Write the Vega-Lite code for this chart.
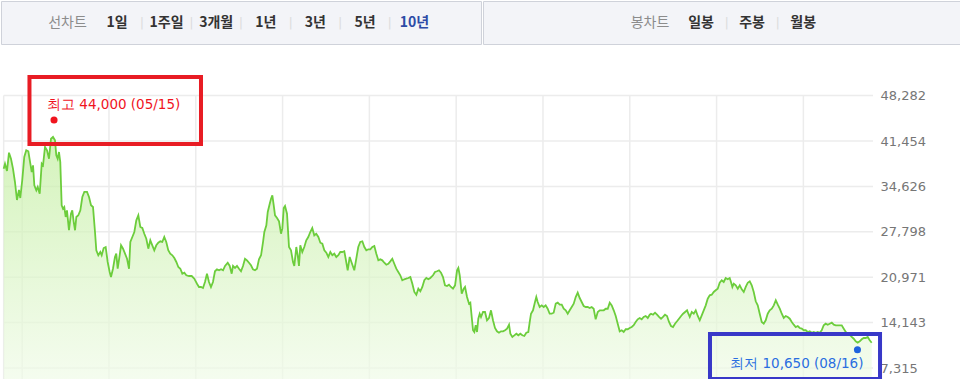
{
  "$schema": "https://vega.github.io/schema/vega-lite/v6.json",
  "padding": 0,
  "background": "#ffffff",
  "spacing": 0,
  "config": {"view": {"stroke": null}, "concat": {"spacing": 0}},
  "vconcat": [
    {
      "spacing": 0,
      "hconcat": [
        {
          "width": 480, "height": 43,
          "view": {"fill": "#f3f4f8", "stroke": "#cfd2da"},
          "data": {"values": [
            {"tab": "선차트", "kind": "title", "sep": false},
            {"tab": "1일", "kind": "tab", "sep": false},
            {"tab": "1주일", "kind": "tab", "sep": true},
            {"tab": "3개월", "kind": "tab", "sep": true},
            {"tab": "1년", "kind": "tab", "sep": true},
            {"tab": "3년", "kind": "tab", "sep": true},
            {"tab": "5년", "kind": "tab", "sep": true},
            {"tab": "10년", "kind": "tab", "sep": true, "selected": true}
          ]},
          "layer": [
            {
              "transform": [{"filter": "datum.kind === 'title'"}],
              "mark": {"type": "text", "font": "Noto Sans CJK KR", "fontSize": 14, "color": "#8c8c8c"},
              "encoding": {
                "x": {"field": "tab", "type": "nominal", "axis": null,
                      "scale": {"type": "band", "domain": ["선차트", "1일", "1주일", "3개월", "1년", "3년", "5년", "10년"], "paddingInner": 0, "paddingOuter": 0.84, "align": 0.5}},
                "text": {"field": "tab"}
              }
            },
            {
              "transform": [{"filter": "datum.kind === 'tab'"}],
              "mark": {"type": "text", "font": "Noto Sans CJK KR", "fontSize": 14, "fontWeight": "bold"},
              "encoding": {
                "x": {"field": "tab", "type": "nominal", "axis": null,
                      "scale": {"type": "band", "domain": ["선차트", "1일", "1주일", "3개월", "1년", "3년", "5년", "10년"], "paddingInner": 0, "paddingOuter": 0.84, "align": 0.5}},
                "text": {"field": "tab"},
                "color": {"condition": {"test": "datum.selected === true", "value": "#2d4ba6"}, "value": "#333333"}
              }
            },
            {
              "transform": [{"filter": "datum.sep"}],
              "mark": {"type": "text", "text": "|", "font": "DejaVu Sans", "fontSize": 13, "color": "#dddddd"},
              "encoding": {
                "x": {"field": "tab", "type": "nominal", "axis": null, "bandPosition": 0,
                      "scale": {"type": "band", "domain": ["선차트", "1일", "1주일", "3개월", "1년", "3년", "5년", "10년"], "paddingInner": 0, "paddingOuter": 0.84, "align": 0.5}}
              }
            }
          ]
        },
        {
          "width": 480, "height": 43,
          "view": {"fill": "#f3f4f8", "stroke": "#cfd2da"},
          "data": {"values": [
            {"tab": "봉차트", "kind": "title", "sep": false},
            {"tab": "일봉", "kind": "tab", "sep": false},
            {"tab": "주봉", "kind": "tab", "sep": true},
            {"tab": "월봉", "kind": "tab", "sep": true}
          ]},
          "layer": [
            {
              "transform": [{"filter": "datum.kind === 'title'"}],
              "mark": {"type": "text", "font": "Noto Sans CJK KR", "fontSize": 14, "color": "#8c8c8c"},
              "encoding": {
                "x": {"field": "tab", "type": "nominal", "axis": null,
                      "scale": {"type": "band", "domain": ["pad1", "pad2", "봉차트", "일봉", "주봉", "월봉", "pad3", "pad4"], "paddingInner": 0, "paddingOuter": 0.7, "align": 0.55}},
                "text": {"field": "tab"}
              }
            },
            {
              "transform": [{"filter": "datum.kind === 'tab'"}],
              "mark": {"type": "text", "font": "Noto Sans CJK KR", "fontSize": 14, "fontWeight": "bold", "color": "#333333"},
              "encoding": {
                "x": {"field": "tab", "type": "nominal", "axis": null,
                      "scale": {"type": "band", "domain": ["pad1", "pad2", "봉차트", "일봉", "주봉", "월봉", "pad3", "pad4"], "paddingInner": 0, "paddingOuter": 0.7, "align": 0.55}},
                "text": {"field": "tab"}
              }
            },
            {
              "transform": [{"filter": "datum.sep"}],
              "mark": {"type": "text", "text": "|", "font": "DejaVu Sans", "fontSize": 13, "color": "#dddddd"},
              "encoding": {
                "x": {"field": "tab", "type": "nominal", "axis": null, "bandPosition": 0,
                      "scale": {"type": "band", "domain": ["pad1", "pad2", "봉차트", "일봉", "주봉", "월봉", "pad3", "pad4"], "paddingInner": 0, "paddingOuter": 0.7, "align": 0.55}}
              }
            }
          ]
        }
      ]
    },
    {
      "width": 872, "height": 336,
      "view": {"stroke": null},
      "layer": [
        {
          "data": {"values": [{"t": 2006.787}, {"t": 2007}, {"t": 2008}, {"t": 2009}, {"t": 2010}, {"t": 2011}, {"t": 2012}, {"t": 2013}, {"t": 2014}, {"t": 2015}, {"t": 2016}]},
          "mark": {"type": "rule", "color": "#ececec", "strokeWidth": 1.5},
          "encoding": {
            "x": {"field": "t", "type": "quantitative", "axis": null, "scale": {"domain": [2006.756, 2016.802], "nice": false, "zero": false}},
            "y": {"datum": 48282, "type": "quantitative", "scale": {"domain": [5360, 55894], "nice": false, "zero": false},
                  "axis": {"orient": "right", "values": [7315, 14143, 20971, 27798, 34626, 41454, 48282], "format": ",.0f", "domain": false, "ticks": false, "grid": false, "labelPadding": 7, "labelFont": "DejaVu Sans", "labelFontSize": 13, "labelColor": "#767676", "labelOverlap": false, "title": null}},
            "y2": {"datum": 5360}
          }
        },
        {
          "data": {"values": [{"v": 7315}, {"v": 14143}, {"v": 20971}, {"v": 27798}, {"v": 34626}, {"v": 41454}, {"v": 48282}]},
          "mark": {"type": "rule", "color": "#ececec", "strokeWidth": 1.5},
          "encoding": {
            "y": {"field": "v", "type": "quantitative", "scale": {"domain": [5360, 55894], "nice": false, "zero": false},
                  "axis": {"orient": "right", "values": [7315, 14143, 20971, 27798, 34626, 41454, 48282], "format": ",.0f", "domain": false, "ticks": false, "grid": false, "labelPadding": 7, "labelFont": "DejaVu Sans", "labelFontSize": 13, "labelColor": "#767676", "labelOverlap": false, "title": null}},
            "x": {"datum": 2006.787, "type": "quantitative", "axis": null, "scale": {"domain": [2006.756, 2016.802], "nice": false, "zero": false}},
            "x2": {"datum": 2016.802}
          }
        },
        {
          "data": {"values": [
{"t":2006.787,"v":37290},{"t":2006.802,"v":38040},{"t":2006.825,"v":36940},{"t":2006.848,"v":39700},{"t":2006.871,"v":38790},{"t":2006.894,"v":37290},{"t":2006.917,"v":35290},{"t":2006.940,"v":32580},{"t":2006.963,"v":34090},{"t":2006.978,"v":32880},
{"t":2007.001,"v":35590},{"t":2007.024,"v":39050},{"t":2007.047,"v":40060},{"t":2007.071,"v":39910},{"t":2007.094,"v":38040},{"t":2007.110,"v":36790},{"t":2007.125,"v":37800},{"t":2007.140,"v":34790},{"t":2007.163,"v":34040},{"t":2007.179,"v":34540},
{"t":2007.202,"v":33530},{"t":2007.225,"v":38040},{"t":2007.240,"v":37800},{"t":2007.263,"v":40550},{"t":2007.286,"v":40060},{"t":2007.309,"v":38790},{"t":2007.332,"v":41800},{"t":2007.355,"v":42060},{"t":2007.378,"v":41560},{"t":2007.393,"v":39310},
{"t":2007.409,"v":38790},{"t":2007.424,"v":39800},{"t":2007.439,"v":38300},{"t":2007.455,"v":31790},{"t":2007.470,"v":31270},{"t":2007.485,"v":31530},{"t":2007.501,"v":30030},{"t":2007.516,"v":31030},{"t":2007.539,"v":28030},{"t":2007.562,"v":30520},
{"t":2007.577,"v":31030},{"t":2007.594,"v":29270},{"t":2007.609,"v":28030},{"t":2007.624,"v":30030},{"t":2007.647,"v":30280},{"t":2007.670,"v":31030},{"t":2007.693,"v":33030},{"t":2007.716,"v":33790},{"t":2007.747,"v":33790},{"t":2007.770,"v":33030},
{"t":2007.793,"v":31790},{"t":2007.816,"v":31530},{"t":2007.839,"v":27770},{"t":2007.854,"v":25020},{"t":2007.877,"v":24270},{"t":2007.900,"v":24760},{"t":2007.916,"v":24270},{"t":2007.939,"v":25360},{"t":2007.962,"v":25510},{"t":2007.985,"v":23260},
{"t":2008.008,"v":21750},{"t":2008.023,"v":21000},{"t":2008.046,"v":22250},{"t":2008.069,"v":24010},{"t":2008.084,"v":24510},{"t":2008.100,"v":22250},{"t":2008.123,"v":24270},{"t":2008.139,"v":25770},{"t":2008.162,"v":25260},{"t":2008.185,"v":24510},
{"t":2008.208,"v":23750},{"t":2008.231,"v":22250},{"t":2008.246,"v":26270},{"t":2008.269,"v":27020},{"t":2008.292,"v":27770},{"t":2008.315,"v":29530},{"t":2008.338,"v":30280},{"t":2008.361,"v":28520},{"t":2008.384,"v":28370},{"t":2008.407,"v":27510},
{"t":2008.430,"v":26760},{"t":2008.453,"v":25260},{"t":2008.476,"v":26520},{"t":2008.499,"v":25770},{"t":2008.522,"v":25020},{"t":2008.545,"v":25770},{"t":2008.568,"v":26160},{"t":2008.591,"v":26370},{"t":2008.614,"v":26270},{"t":2008.637,"v":27020},
{"t":2008.660,"v":26270},{"t":2008.683,"v":25020},{"t":2008.706,"v":24510},{"t":2008.730,"v":24270},{"t":2008.753,"v":23860},{"t":2008.776,"v":23260},{"t":2008.799,"v":22510},{"t":2008.822,"v":22250},{"t":2008.845,"v":21500},{"t":2008.868,"v":21650},
{"t":2008.891,"v":21260},{"t":2008.922,"v":21150},{"t":2008.953,"v":21150},{"t":2008.983,"v":20750},{"t":2009.014,"v":19990},{"t":2009.037,"v":19500},{"t":2009.060,"v":19500},{"t":2009.083,"v":19350},{"t":2009.106,"v":20250},{"t":2009.129,"v":21500},
{"t":2009.152,"v":20250},{"t":2009.175,"v":19500},{"t":2009.198,"v":20250},{"t":2009.221,"v":21860},{"t":2009.244,"v":22160},{"t":2009.268,"v":22010},{"t":2009.291,"v":22160},{"t":2009.314,"v":22010},{"t":2009.337,"v":22660},{"t":2009.368,"v":23150},
{"t":2009.391,"v":22660},{"t":2009.414,"v":21500},{"t":2009.429,"v":22660},{"t":2009.452,"v":22360},{"t":2009.475,"v":22660},{"t":2009.498,"v":22250},{"t":2009.521,"v":21860},{"t":2009.544,"v":22660},{"t":2009.567,"v":23750},{"t":2009.590,"v":23510},
{"t":2009.613,"v":23150},{"t":2009.636,"v":22760},{"t":2009.659,"v":22160},{"t":2009.682,"v":22010},{"t":2009.705,"v":22250},{"t":2009.728,"v":23660},{"t":2009.752,"v":24270},{"t":2009.775,"v":26270},{"t":2009.790,"v":27770},{"t":2009.813,"v":28780},
{"t":2009.829,"v":30780},{"t":2009.852,"v":32030},{"t":2009.867,"v":32780},{"t":2009.882,"v":33290},{"t":2009.898,"v":31790},{"t":2009.913,"v":30280},{"t":2009.936,"v":29880},{"t":2009.959,"v":29380},{"t":2009.982,"v":27510},{"t":2009.997,"v":28270},
{"t":2010.013,"v":31380},{"t":2010.028,"v":31680},{"t":2010.051,"v":30520},{"t":2010.074,"v":25510},{"t":2010.097,"v":25020},{"t":2010.120,"v":23260},{"t":2010.135,"v":22660},{"t":2010.158,"v":25510},{"t":2010.174,"v":24270},{"t":2010.189,"v":22660},
{"t":2010.204,"v":25770},{"t":2010.227,"v":24760},{"t":2010.250,"v":25510},{"t":2010.273,"v":26520},{"t":2010.296,"v":27020},{"t":2010.319,"v":27770},{"t":2010.342,"v":28370},{"t":2010.365,"v":27270},{"t":2010.388,"v":27510},{"t":2010.412,"v":27020},
{"t":2010.435,"v":26160},{"t":2010.458,"v":26010},{"t":2010.481,"v":25020},{"t":2010.504,"v":24660},{"t":2010.527,"v":24010},{"t":2010.550,"v":24760},{"t":2010.573,"v":24270},{"t":2010.596,"v":24510},{"t":2010.619,"v":24010},{"t":2010.642,"v":24270},
{"t":2010.665,"v":24760},{"t":2010.688,"v":24760},{"t":2010.711,"v":24870},{"t":2010.727,"v":23750},{"t":2010.750,"v":22010},{"t":2010.773,"v":24010},{"t":2010.796,"v":23150},{"t":2010.826,"v":22010},{"t":2010.849,"v":23750},{"t":2010.872,"v":25510},
{"t":2010.895,"v":26270},{"t":2010.919,"v":26370},{"t":2010.942,"v":25510},{"t":2010.965,"v":25020},{"t":2010.988,"v":25170},{"t":2011.011,"v":25170},{"t":2011.034,"v":25510},{"t":2011.057,"v":25660},{"t":2011.080,"v":24510},{"t":2011.103,"v":23510},
{"t":2011.126,"v":23660},{"t":2011.149,"v":23510},{"t":2011.172,"v":23150},{"t":2011.195,"v":22850},{"t":2011.218,"v":23000},{"t":2011.241,"v":23360},{"t":2011.264,"v":23750},{"t":2011.287,"v":23000},{"t":2011.310,"v":22250},{"t":2011.333,"v":21750},
{"t":2011.356,"v":21260},{"t":2011.379,"v":20510},{"t":2011.402,"v":20660},{"t":2011.425,"v":20750},{"t":2011.448,"v":20850},{"t":2011.472,"v":21000},{"t":2011.495,"v":19990},{"t":2011.518,"v":18750},{"t":2011.541,"v":18340},{"t":2011.564,"v":19240},
{"t":2011.587,"v":18850},{"t":2011.610,"v":19500},{"t":2011.633,"v":20510},{"t":2011.656,"v":20850},{"t":2011.679,"v":20660},{"t":2011.702,"v":20850},{"t":2011.733,"v":21260},{"t":2011.756,"v":21750},{"t":2011.779,"v":21860},{"t":2011.802,"v":22010},
{"t":2011.825,"v":21650},{"t":2011.848,"v":21000},{"t":2011.871,"v":19750},{"t":2011.894,"v":19650},{"t":2011.917,"v":19840},{"t":2011.940,"v":19500},{"t":2011.963,"v":19240},{"t":2011.987,"v":19750},{"t":2012.010,"v":22010},{"t":2012.025,"v":22360},
{"t":2012.041,"v":21260},{"t":2012.064,"v":18490},{"t":2012.087,"v":19240},{"t":2012.102,"v":19500},{"t":2012.125,"v":17990},{"t":2012.148,"v":16990},{"t":2012.163,"v":17140},{"t":2012.179,"v":14990},{"t":2012.194,"v":12990},{"t":2012.209,"v":12730},
{"t":2012.225,"v":13740},{"t":2012.240,"v":12730},{"t":2012.255,"v":14730},{"t":2012.271,"v":15480},{"t":2012.286,"v":14990},{"t":2012.309,"v":15740},{"t":2012.332,"v":15740},{"t":2012.355,"v":14490},{"t":2012.378,"v":14840},{"t":2012.401,"v":15990},
{"t":2012.424,"v":14490},{"t":2012.447,"v":13330},{"t":2012.470,"v":12830},{"t":2012.493,"v":12620},{"t":2012.516,"v":12830},{"t":2012.540,"v":12830},{"t":2012.563,"v":12990},{"t":2012.586,"v":13230},{"t":2012.609,"v":13830},{"t":2012.624,"v":12470},
{"t":2012.647,"v":11980},{"t":2012.670,"v":12230},{"t":2012.693,"v":12470},{"t":2012.716,"v":12230},{"t":2012.739,"v":12470},{"t":2012.762,"v":12230},{"t":2012.785,"v":12130},{"t":2012.808,"v":12620},{"t":2012.831,"v":12730},{"t":2012.847,"v":14230},
{"t":2012.862,"v":15480},{"t":2012.885,"v":15990},{"t":2012.908,"v":17240},{"t":2012.923,"v":17990},{"t":2012.939,"v":17240},{"t":2012.962,"v":16490},{"t":2012.985,"v":16740},{"t":2013.008,"v":16490},{"t":2013.031,"v":16740},{"t":2013.054,"v":16230},
{"t":2013.077,"v":15480},{"t":2013.100,"v":15480},{"t":2013.123,"v":15630},{"t":2013.147,"v":16990},{"t":2013.170,"v":17140},{"t":2013.193,"v":16840},{"t":2013.216,"v":16840},{"t":2013.239,"v":16230},{"t":2013.262,"v":15990},{"t":2013.285,"v":15480},
{"t":2013.308,"v":15990},{"t":2013.331,"v":16490},{"t":2013.354,"v":16990},{"t":2013.377,"v":17990},{"t":2013.400,"v":18640},{"t":2013.423,"v":17840},{"t":2013.446,"v":17240},{"t":2013.469,"v":16640},{"t":2013.492,"v":16490},{"t":2013.515,"v":16490},
{"t":2013.538,"v":16340},{"t":2013.561,"v":16490},{"t":2013.584,"v":16230},{"t":2013.607,"v":14640},{"t":2013.631,"v":15740},{"t":2013.654,"v":15990},{"t":2013.677,"v":15990},{"t":2013.700,"v":15990},{"t":2013.723,"v":16230},{"t":2013.746,"v":16230},
{"t":2013.769,"v":17140},{"t":2013.792,"v":16740},{"t":2013.815,"v":15990},{"t":2013.838,"v":15140},{"t":2013.861,"v":13980},{"t":2013.884,"v":12830},{"t":2013.907,"v":12990},{"t":2013.930,"v":12730},{"t":2013.953,"v":13140},{"t":2013.976,"v":13140},
{"t":2013.999,"v":13330},{"t":2014.022,"v":13480},{"t":2014.045,"v":13740},{"t":2014.068,"v":14230},{"t":2014.091,"v":14640},{"t":2014.114,"v":14840},{"t":2014.137,"v":14640},{"t":2014.160,"v":14990},{"t":2014.183,"v":15140},{"t":2014.207,"v":14840},
{"t":2014.230,"v":15330},{"t":2014.245,"v":15480},{"t":2014.268,"v":15330},{"t":2014.291,"v":15630},{"t":2014.314,"v":15330},{"t":2014.337,"v":14990},{"t":2014.360,"v":14730},{"t":2014.383,"v":14990},{"t":2014.406,"v":15330},{"t":2014.429,"v":15140},
{"t":2014.452,"v":14230},{"t":2014.475,"v":13630},{"t":2014.498,"v":13480},{"t":2014.521,"v":13980},{"t":2014.544,"v":14340},{"t":2014.567,"v":14730},{"t":2014.591,"v":15140},{"t":2014.614,"v":15480},{"t":2014.637,"v":15740},{"t":2014.660,"v":15990},
{"t":2014.675,"v":15480},{"t":2014.691,"v":14990},{"t":2014.714,"v":15740},{"t":2014.737,"v":15480},{"t":2014.760,"v":15990},{"t":2014.783,"v":15140},{"t":2014.806,"v":14490},{"t":2014.829,"v":15240},{"t":2014.852,"v":15990},{"t":2014.875,"v":16740},
{"t":2014.898,"v":17740},{"t":2014.921,"v":18250},{"t":2014.944,"v":18340},{"t":2014.967,"v":18750},{"t":2014.990,"v":19000},{"t":2015.013,"v":19240},{"t":2015.036,"v":20140},{"t":2015.059,"v":20510},{"t":2015.082,"v":20250},{"t":2015.105,"v":20850},
{"t":2015.128,"v":20660},{"t":2015.151,"v":20850},{"t":2015.166,"v":20250},{"t":2015.182,"v":19500},{"t":2015.198,"v":19990},{"t":2015.221,"v":19750},{"t":2015.244,"v":19240},{"t":2015.267,"v":19750},{"t":2015.290,"v":19150},{"t":2015.313,"v":18750},
{"t":2015.336,"v":19500},{"t":2015.359,"v":20140},{"t":2015.382,"v":20350},{"t":2015.405,"v":19750},{"t":2015.428,"v":18750},{"t":2015.451,"v":17350},{"t":2015.474,"v":16740},{"t":2015.497,"v":15480},{"t":2015.520,"v":14230},{"t":2015.543,"v":13980},
{"t":2015.566,"v":14490},{"t":2015.589,"v":15480},{"t":2015.612,"v":15990},{"t":2015.636,"v":16230},{"t":2015.659,"v":16740},{"t":2015.682,"v":17500},{"t":2015.705,"v":16840},{"t":2015.728,"v":16230},{"t":2015.751,"v":15480},{"t":2015.774,"v":14840},
{"t":2015.797,"v":15140},{"t":2015.820,"v":14990},{"t":2015.843,"v":14730},{"t":2015.866,"v":14230},{"t":2015.889,"v":13830},{"t":2015.912,"v":13480},{"t":2015.935,"v":13630},{"t":2015.958,"v":13330},{"t":2015.981,"v":13230},{"t":2016.004,"v":12990},
{"t":2016.027,"v":12990},{"t":2016.050,"v":12730},{"t":2016.073,"v":12830},{"t":2016.096,"v":12620},{"t":2016.119,"v":12730},{"t":2016.142,"v":12620},{"t":2016.165,"v":12730},{"t":2016.188,"v":12620},{"t":2016.211,"v":12990},{"t":2016.234,"v":13740},
{"t":2016.257,"v":13980},{"t":2016.280,"v":13830},{"t":2016.303,"v":13980},{"t":2016.327,"v":14130},{"t":2016.350,"v":13830},{"t":2016.373,"v":13740},{"t":2016.396,"v":13740},{"t":2016.419,"v":13740},{"t":2016.442,"v":13740},{"t":2016.465,"v":13230},
{"t":2016.488,"v":12730},{"t":2016.511,"v":12470},{"t":2016.534,"v":12320},{"t":2016.557,"v":11980},{"t":2016.580,"v":11720},{"t":2016.603,"v":11330},{"t":2016.626,"v":11120},{"t":2016.649,"v":11330},{"t":2016.672,"v":11630},{"t":2016.695,"v":11830},
{"t":2016.718,"v":11830},{"t":2016.741,"v":11980},{"t":2016.764,"v":11480},{"t":2016.787,"v":11120}
          ]},
          "mark": {
            "type": "area",
            "line": {"color": "#6ccd3c", "strokeWidth": 1.8},
            "color": {"gradient": "linear", "x1": 0, "y1": 0, "x2": 0, "y2": 1,
                      "stops": [{"offset": 0, "color": "#c2ee9f"}, {"offset": 1, "color": "#f7fdf3"}]}
          },
          "encoding": {
            "x": {"field": "t", "type": "quantitative", "axis": null, "scale": {"domain": [2006.756, 2016.802], "nice": false, "zero": false}},
            "y": {"field": "v", "type": "quantitative", "scale": {"domain": [5360, 55894], "nice": false, "zero": false},
                  "axis": {"orient": "right", "values": [7315, 14143, 20971, 27798, 34626, 41454, 48282], "format": ",.0f", "domain": false, "ticks": false, "grid": false, "labelPadding": 7, "labelFont": "DejaVu Sans", "labelFontSize": 13, "labelColor": "#767676", "labelOverlap": false, "title": null}}
          }
        },
        {
          "data": {"values": [{"kind": "max", "t": 2007.084, "t2": 2009.060, "v": 41005, "v2": 51081}]},
          "mark": {"type": "rect", "fill": "transparent", "stroke": "#e81c24", "strokeWidth": 4},
          "encoding": {
            "x": {"field": "t", "type": "quantitative", "axis": null, "scale": {"domain": [2006.756, 2016.802], "nice": false, "zero": false}},
            "x2": {"field": "t2"},
            "y": {"field": "v", "type": "quantitative", "scale": {"domain": [5360, 55894], "nice": false, "zero": false},
                  "axis": {"orient": "right", "values": [7315, 14143, 20971, 27798, 34626, 41454, 48282], "format": ",.0f", "domain": false, "ticks": false, "grid": false, "labelPadding": 7, "labelFont": "DejaVu Sans", "labelFontSize": 13, "labelColor": "#767676", "labelOverlap": false, "title": null}},
            "y2": {"field": "v2"}
          }
        },
        {
          "data": {"values": [{"kind": "min", "t": 2014.924, "t2": 2016.883, "v": 5661, "v2": 12429}]},
          "mark": {"type": "rect", "fill": "transparent", "stroke": "#3838c8", "strokeWidth": 4},
          "encoding": {
            "x": {"field": "t", "type": "quantitative", "axis": null, "scale": {"domain": [2006.756, 2016.802], "nice": false, "zero": false}},
            "x2": {"field": "t2"},
            "y": {"field": "v", "type": "quantitative", "scale": {"domain": [5360, 55894], "nice": false, "zero": false},
                  "axis": {"orient": "right", "values": [7315, 14143, 20971, 27798, 34626, 41454, 48282], "format": ",.0f", "domain": false, "ticks": false, "grid": false, "labelPadding": 7, "labelFont": "DejaVu Sans", "labelFontSize": 13, "labelColor": "#767676", "labelOverlap": false, "title": null}},
            "y2": {"field": "v2"}
          }
        },
        {
          "data": {"values": [{"kind": "max", "t": 2007.367, "v": 44000, "label": "최고 44,000 (05/15)"}]},
          "mark": {"type": "point", "filled": true, "size": 50, "opacity": 1, "color": "#f0141e", "yOffset": -4},
          "encoding": {
            "x": {"field": "t", "type": "quantitative", "axis": null, "scale": {"domain": [2006.756, 2016.802], "nice": false, "zero": false}},
            "y": {"field": "v", "type": "quantitative", "scale": {"domain": [5360, 55894], "nice": false, "zero": false},
                  "axis": {"orient": "right", "values": [7315, 14143, 20971, 27798, 34626, 41454, 48282], "format": ",.0f", "domain": false, "ticks": false, "grid": false, "labelPadding": 7, "labelFont": "DejaVu Sans", "labelFontSize": 13, "labelColor": "#767676", "labelOverlap": false, "title": null}}
          }
        },
        {
          "data": {"values": [{"kind": "max", "t": 2007.367, "v": 44000, "label": "최고 44,000 (05/15)"}]},
          "mark": {"type": "text", "align": "left", "baseline": "middle", "dx": -7, "dy": -19, "font": "DejaVu Sans", "fontSize": 13.5, "color": "#f0141e"},
          "encoding": {
            "x": {"field": "t", "type": "quantitative", "axis": null, "scale": {"domain": [2006.756, 2016.802], "nice": false, "zero": false}},
            "y": {"field": "v", "type": "quantitative", "scale": {"domain": [5360, 55894], "nice": false, "zero": false},
                  "axis": {"orient": "right", "values": [7315, 14143, 20971, 27798, 34626, 41454, 48282], "format": ",.0f", "domain": false, "ticks": false, "grid": false, "labelPadding": 7, "labelFont": "DejaVu Sans", "labelFontSize": 13, "labelColor": "#767676", "labelOverlap": false, "title": null}},
            "text": {"field": "label"}
          }
        },
        {
          "data": {"values": [{"kind": "min", "t": 2016.623, "v": 10650, "label": "최저 10,650 (08/16)"}]},
          "mark": {"type": "point", "filled": true, "size": 50, "opacity": 1, "color": "#1f63de", "yOffset": 4},
          "encoding": {
            "x": {"field": "t", "type": "quantitative", "axis": null, "scale": {"domain": [2006.756, 2016.802], "nice": false, "zero": false}},
            "y": {"field": "v", "type": "quantitative", "scale": {"domain": [5360, 55894], "nice": false, "zero": false},
                  "axis": {"orient": "right", "values": [7315, 14143, 20971, 27798, 34626, 41454, 48282], "format": ",.0f", "domain": false, "ticks": false, "grid": false, "labelPadding": 7, "labelFont": "DejaVu Sans", "labelFontSize": 13, "labelColor": "#767676", "labelOverlap": false, "title": null}}
          }
        },
        {
          "data": {"values": [{"kind": "min", "t": 2016.623, "v": 10650, "label": "최저 10,650 (08/16)"}]},
          "mark": {"type": "text", "align": "right", "baseline": "middle", "dx": 6, "dy": 18, "font": "DejaVu Sans", "fontSize": 13.5, "color": "#2a6ee0"},
          "encoding": {
            "x": {"field": "t", "type": "quantitative", "axis": null, "scale": {"domain": [2006.756, 2016.802], "nice": false, "zero": false}},
            "y": {"field": "v", "type": "quantitative", "scale": {"domain": [5360, 55894], "nice": false, "zero": false},
                  "axis": {"orient": "right", "values": [7315, 14143, 20971, 27798, 34626, 41454, 48282], "format": ",.0f", "domain": false, "ticks": false, "grid": false, "labelPadding": 7, "labelFont": "DejaVu Sans", "labelFontSize": 13, "labelColor": "#767676", "labelOverlap": false, "title": null}},
            "text": {"field": "label"}
          }
        }
      ]
    }
  ]
}
